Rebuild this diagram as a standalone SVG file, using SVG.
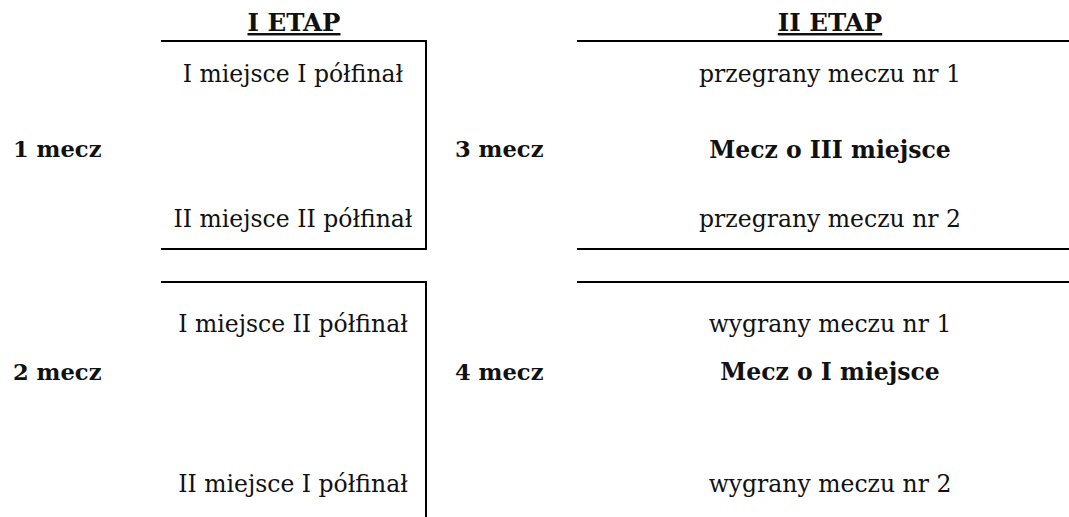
<svg xmlns="http://www.w3.org/2000/svg" width="1069" height="517" viewBox="0 0 1069 517">
<style>
text{font-family:"DejaVu Serif","Liberation Serif",serif;font-size:23.5px;fill:#111}
.b{font-weight:bold}
.bl{font-weight:bold;font-size:22.6px}
.c{text-anchor:middle}
.h{font-weight:bold;text-decoration:underline;font-size:24.5px}
line,path{stroke:#000;stroke-width:2;fill:none}
</style>
<rect width="1069" height="517" fill="#fff"/>
<g id="headers">
<text class="h c" x="294" y="31">I ETAP</text>
<text class="h c" x="830" y="31">II ETAP</text>
</g>
<g id="connectors">
<path d="M161,41 H426 V249 H161"/>
<path d="M161,282 H426 V517"/>
<line x1="577" y1="41" x2="1069" y2="41"/>
<line x1="577" y1="249" x2="1069" y2="249"/>
<line x1="577" y1="282" x2="1069" y2="282"/>
</g>
<g id="match1">
<text class="bl" x="13" y="157">1 mecz</text>
<text class="c" x="293" y="82">I miejsce I półfinał</text>
<text class="c" x="293" y="227">II miejsce II półfinał</text>
</g>
<g id="match2">
<text class="bl" x="13" y="380">2 mecz</text>
<text class="c" x="293" y="332">I miejsce II półfinał</text>
<text class="c" x="293" y="492">II miejsce I półfinał</text>
</g>
<g id="match3">
<text class="bl" x="455" y="157">3 mecz</text>
<text class="c" x="830" y="82">przegrany meczu nr 1</text>
<text class="b c" x="830" y="158">Mecz o III miejsce</text>
<text class="c" x="830" y="227">przegrany meczu nr 2</text>
</g>
<g id="match4">
<text class="bl" x="455" y="380">4 mecz</text>
<text class="c" x="830" y="332">wygrany meczu nr 1</text>
<text class="b c" x="830" y="380">Mecz o I miejsce</text>
<text class="c" x="830" y="492">wygrany meczu nr 2</text>
</g>
</svg>
